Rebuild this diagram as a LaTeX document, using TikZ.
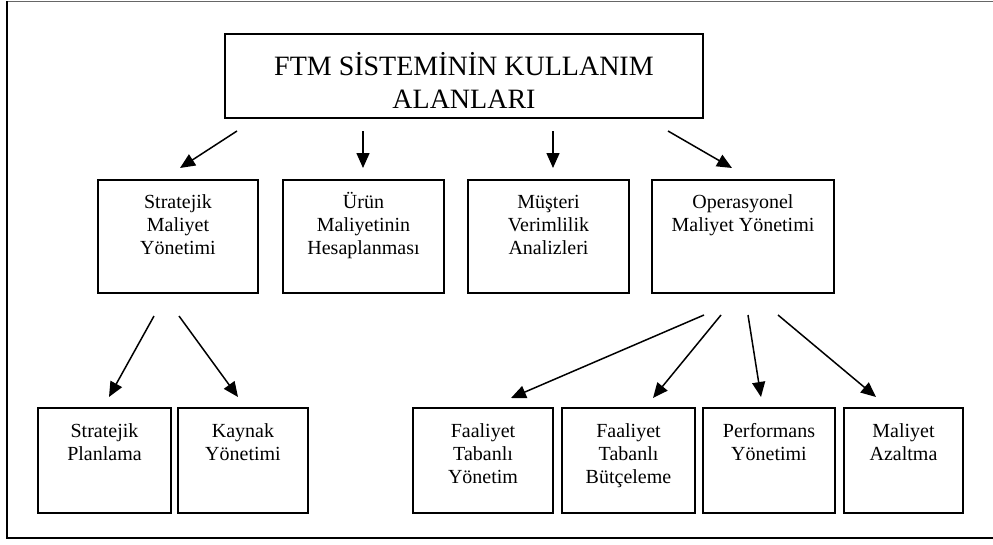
\documentclass[tikz,border=0pt]{standalone}
\usepackage{fontspec}
\setmainfont{Liberation Serif}
\usetikzlibrary{arrows.meta}
\newcommand{\toplines}[4]{\parbox[c][#2][t]{#1}{\centering\rule{0pt}{#3}#4}}

\begin{document}
\begin{tikzpicture}[x=1pt,y=1pt,
box/.style={draw,line width=2pt,inner sep=0pt,font=\fontsize{20}{23}\selectfont},
arr/.style={-{Triangle[length=15pt,width=13pt]},line width=1.5pt}]
\useasboundingbox (0,0) rectangle (993,-544);
% frame, open on the right
\draw[gray!80!black,line width=1pt] (7,-1) -- (993,-1);
\draw[line width=2.2pt] (993,-538) -- (7,-538) -- (7,-1);
% top
\node[box,font=\fontsize{28}{33}\selectfont] (top) at (464,-76) {\toplines{478pt}{84pt}{41pt}{FTM SİSTEMİNİN KULLANIM\\ALANLARI}};
% second row
\node[box] (smy) at (178,-236.5) {\toplines{160pt}{113pt}{28pt}{Stratejik\\Maliyet\\Yönetimi}};
\node[box] (urun) at (363.5,-236.5) {\toplines{161pt}{113pt}{28pt}{Ürün\\Maliyetinin\\Hesaplanması}};
\node[box] (must) at (548.5,-236.5) {\toplines{161pt}{113pt}{28pt}{Müşteri\\Verimlilik\\Analizleri}};
\node[box] (opy) at (743,-236.5) {\toplines{182pt}{113pt}{28pt}{Operasyonel\\Maliyet Yönetimi}};
% third row
\node[box] (splan) at (104.5,-460.5) {\toplines{133pt}{105pt}{29pt}{Stratejik\\Planlama}};
\node[box] (kaynak) at (243,-460.5) {\toplines{130pt}{105pt}{29pt}{Kaynak\\Yönetimi}};
\node[box] (fty) at (483,-460.5) {\toplines{140pt}{105pt}{29pt}{Faaliyet\\Tabanlı\\Yönetim}};
\node[box] (ftb) at (628.5,-460.5) {\toplines{133pt}{105pt}{29pt}{Faaliyet\\Tabanlı\\Bütçeleme}};
\node[box] (perf) at (769,-460.5) {\toplines{132pt}{105pt}{29pt}{Performans\\Yönetimi}};
\node[box] (azalt) at (903.5,-460.5) {\toplines{119pt}{105pt}{29pt}{Maliyet\\Azaltma}};
% arrows
\draw[arr] ([xshift=-227pt,yshift=-12pt]top.south) -- ([xshift=2pt,yshift=11pt]smy.north);
\draw[arr] ([xshift=-101pt,yshift=-12pt]top.south) -- ([xshift=-0.5pt,yshift=11pt]urun.north);
\draw[arr] ([xshift=89pt,yshift=-12pt]top.south) -- ([xshift=4.5pt,yshift=11pt]must.north);
\draw[arr] ([xshift=204pt,yshift=-12pt]top.south) -- ([xshift=-11pt,yshift=11pt]opy.north);
\draw[arr] ([xshift=-24pt,yshift=-22pt]smy.south) -- ([xshift=4.5pt,yshift=10pt]splan.north);
\draw[arr] ([xshift=1pt,yshift=-22pt]smy.south) -- ([xshift=-5pt,yshift=10pt]kaynak.north);
\draw[arr] ([xshift=-39pt,yshift=-21pt]opy.south) -- ([xshift=28pt,yshift=9pt]fty.north);
\draw[arr] ([xshift=-22pt,yshift=-21pt]opy.south) -- ([xshift=24.5pt,yshift=9pt]ftb.north);
\draw[arr] ([xshift=5pt,yshift=-21pt]opy.south) -- ([xshift=-8pt,yshift=10pt]perf.north);
\draw[arr] ([xshift=35pt,yshift=-21pt]opy.south) -- ([xshift=-27.5pt,yshift=10pt]azalt.north);
\end{tikzpicture}
\end{document}
